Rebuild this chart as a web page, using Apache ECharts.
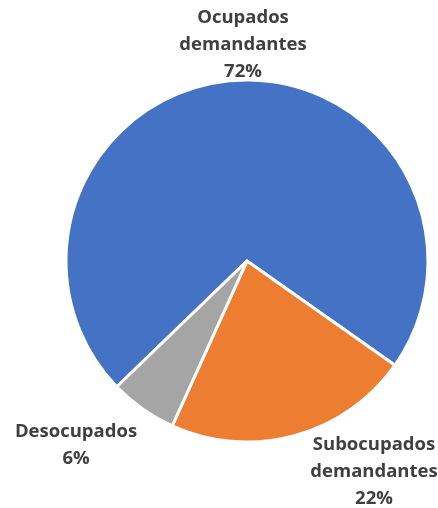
<!DOCTYPE html>
<html><head><meta charset="utf-8">
<script src="https://cdn.jsdelivr.net/npm/echarts@6/dist/echarts.min.js"></script>
<style>html,body{margin:0;padding:0;background:#fff}#c{width:438px;height:508px}</style>
</head><body><div id="c"></div>
<script>
const categories = ['Ocupados\ndemandantes', 'Subocupados\ndemandantes', 'Desocupados'];
const values = [72, 22, 6];
const colors = ['#4472C4', '#ED7D31', '#A5A5A5'];
const labelPos = [[243, 45], [374, 472], [76, 445]];

const chart = echarts.init(document.getElementById('c'), null, {renderer: 'canvas'});
chart.setOption({
  animation: false,
  series: [{
    type: 'pie',
    center: [247, 261],
    radius: 181,
    startAngle: -136,
    clockwise: true,
    data: categories.map((n, i) => ({name: n, value: values[i], itemStyle: {color: colors[i]}})),
    itemStyle: {borderColor: '#fff', borderWidth: 3},
    label: {
      show: true,
      position: 'outside',
      formatter: p => p.name + '\n' + p.value + '%',
      fontFamily: 'Open Sans',
      fontWeight: 'bold',
      fontSize: 18.5,
      lineHeight: 27,
      color: '#404040',
      align: 'center',
      overflow: 'none',
      width: 200
    },
    labelLine: {show: false},
    labelLayout: p => ({x: labelPos[p.dataIndex][0], y: labelPos[p.dataIndex][1], align: 'center', verticalAlign: 'middle'})
  }]
});
</script></body></html>
